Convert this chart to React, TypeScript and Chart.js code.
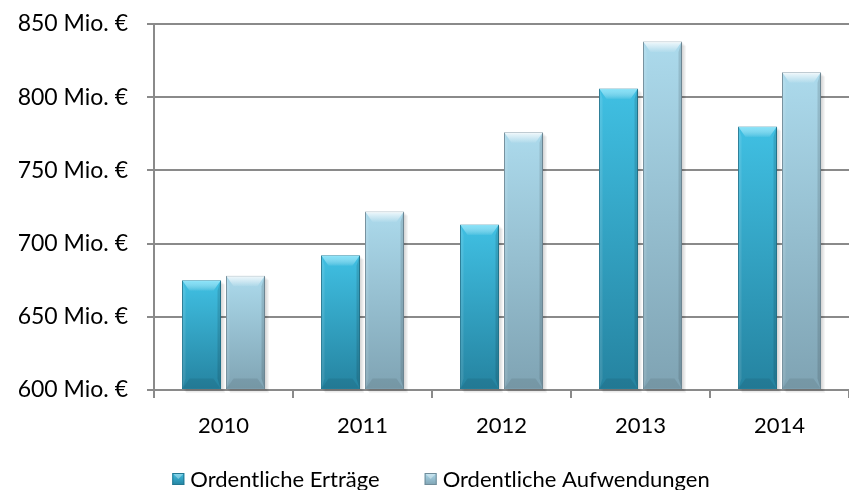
import React, { useEffect, useRef } from "react";
import { Chart, registerables } from "chart.js";

Chart.register(...registerables);

const categories = ["2010", "2011", "2012", "2013", "2014"];
const seriesNames = ["Ordentliche Erträge", "Ordentliche Aufwendungen"];
const ertraege = [675, 692, 713, 806, 780];
const aufwendungen = [678, 722, 776, 838, 817];
const yTicks = [600, 650, 700, 750, 800, 850];

const FONT = "Lato, 'Open Sans', sans-serif";
const FONT_SIZE = 22;

const DARK = { top: "#40c0e3", bottom: "#2583a0", border: "#237892", bevelTop: "rgba(150,235,255,0.8)" };
const LIGHT = { top: "#acdaec", bottom: "#7fa3b3", border: "#718d9a", bevelTop: "rgba(255,255,255,0.8)" };

const makeGrad = (c: any) => (ctx: any) => {
  const chart = ctx.chart;
  if (ctx.type !== "data" || !chart.chartArea || !chart.scales.y) return c.top;
  const y = chart.scales.y;
  const top = y.getPixelForValue(ctx.raw);
  const bot = y.getPixelForValue(y.min);
  if (!isFinite(top) || !isFinite(bot)) return c.top;
  const g = chart.ctx.createLinearGradient(0, top, 0, bot);
  g.addColorStop(0, c.top);
  g.addColorStop(1, c.bottom);
  return g;
};

const palettes = [DARK, LIGHT];

const eachBar = (chart: any, fn: (b: any, di: number) => void) => {
  chart.data.datasets.forEach((_ds: any, di: number) => {
    const meta = chart.getDatasetMeta(di);
    meta.data.forEach((bar: any) => {
      const p = bar.getProps(["x", "y", "base", "width"], true);
      p.base = Math.min(p.base, chart.chartArea.bottom);
      fn(p, di);
    });
  });
};

const bevelPlugin = {
  id: "bevel",
  beforeDatasetsDraw(chart: any) {
    const ctx = chart.ctx;
    ctx.save();
    eachBar(chart, ({ x, y, base, width }) => {
      const l = x - width / 2;
      for (let k = 1; k <= 4; k++) {
        ctx.fillStyle = "rgba(0,0,0,0.045)";
        ctx.fillRect(l + k, y + k, width, base - y);
      }
    });
    ctx.restore();
  },
  afterDatasetsDraw(chart: any) {
    const ctx = chart.ctx;
    eachBar(chart, ({ x, y, base, width }, di) => {
      const pal = palettes[di];
      const l = x - width / 2 + 0.5;
      const r = x + width / 2 - 0.5;
      const t = y + 0.5;
      const b = base - 0.5;
      const bx = 7;
      const by = 10;
      const poly = (pts: number[][], fill: any) => {
        ctx.beginPath();
        ctx.moveTo(pts[0][0], pts[0][1]);
        for (let i = 1; i < pts.length; i++) ctx.lineTo(pts[i][0], pts[i][1]);
        ctx.closePath();
        ctx.fillStyle = fill;
        ctx.fill();
      };
      ctx.save();
      const gt = ctx.createLinearGradient(0, t, 0, t + by);
      gt.addColorStop(0, pal.bevelTop);
      gt.addColorStop(1, "rgba(255,255,255,0.05)");
      poly([[l, t], [r, t], [r - bx, t + by], [l + bx, t + by]], gt);
      poly([[l, b], [r, b], [r - bx, b - by], [l + bx, b - by]], "rgba(0,0,0,0.08)");
      poly([[l, t], [l + 3, t + by], [l + 3, b - by], [l, b]], "rgba(255,255,255,0.10)");
      poly([[r, t], [r - 3, t + by], [r - 3, b - by], [r, b]], "rgba(0,0,0,0.12)");
      ctx.restore();
    });
  },
};

const legendPlugin = {
  id: "customLegend",
  afterDraw(chart: any) {
    const ctx = chart.ctx;
    ctx.save();
    ctx.font = `${FONT_SIZE}px ${FONT}`;
    ctx.textBaseline = "middle";
    ctx.textAlign = "left";
    const box = 12;
    const gapText = 6;
    const gapItem = 45;
    const widths = seriesNames.map((n) => ctx.measureText(n).width);
    const total = widths.reduce((a, w) => a + box + gapText + w, 0) + gapItem * (seriesNames.length - 1);
    let x = 441 - total / 2;
    const cy = 479;
    seriesNames.forEach((name, i) => {
      const pal = palettes[i];
      const g = ctx.createLinearGradient(0, cy - box / 2, 0, cy + box / 2);
      g.addColorStop(0, pal.top);
      g.addColorStop(1, pal.bottom);
      ctx.fillStyle = g;
      ctx.fillRect(x, cy - box / 2, box, box);
      ctx.fillStyle = "rgba(255,255,255,0.35)";
      ctx.beginPath();
      ctx.moveTo(x, cy - box / 2);
      ctx.lineTo(x + box, cy - box / 2);
      ctx.lineTo(x + box / 2, cy);
      ctx.closePath();
      ctx.fill();
      ctx.strokeStyle = pal.border;
      ctx.lineWidth = 1;
      ctx.strokeRect(x + 0.5, cy - box / 2 + 0.5, box - 1, box - 1);
      x += box + gapText;
      ctx.fillStyle = "#000";
      ctx.fillText(name, x, cy + 1);
      x += widths[i] + gapItem;
    });
    ctx.restore();
  },
};

export default function App() {
  const ref = useRef<HTMLCanvasElement>(null);
  useEffect(() => {
    if (!ref.current) return;
    const chart = new Chart(ref.current, {
      type: "bar",
      data: {
        labels: categories,
        datasets: [
          {
            label: seriesNames[0],
            data: ertraege,
            base: yTicks[0],
            backgroundColor: makeGrad(DARK),
            borderColor: DARK.border,
            borderWidth: 1,
            categoryPercentage: 0.633,
            barPercentage: 0.886,
          },
          {
            label: seriesNames[1],
            data: aufwendungen,
            base: yTicks[0],
            backgroundColor: makeGrad(LIGHT),
            borderColor: LIGHT.border,
            borderWidth: 1,
            categoryPercentage: 0.633,
            barPercentage: 0.886,
          },
        ],
      },
      options: {
        animation: false,
        responsive: false,
        maintainAspectRatio: false,
        layout: { padding: { top: 24, right: 0, bottom: 40, left: 0 } },
        plugins: {
          legend: { display: false },
          tooltip: { enabled: false },
        },
        scales: {
          x: {
            grid: {
              display: true,
              drawOnChartArea: false,
              drawTicks: true,
              tickLength: 8,
              color: "#8a8a8a",
              lineWidth: 2,
              offset: true,
            },
            border: { display: true, color: "#8a8a8a", width: 2 },
            ticks: {
              color: "#000",
              font: { family: FONT, size: FONT_SIZE },
              padding: 15,
            },
            afterFit: (s: any) => {
              s.height = 60;
              s.paddingLeft = 0;
              s.paddingRight = 0;
            },
          },
          y: {
            min: yTicks[0],
            max: yTicks[yTicks.length - 1],
            afterBuildTicks: (s: any) => {
              s.ticks = yTicks.map((v) => ({ value: v }));
            },
            grid: {
              color: "#8a8a8a",
              lineWidth: 2,
              tickLength: 7,
            },
            border: { display: true, color: "#8a8a8a", width: 2 },
            ticks: {
              color: "#000",
              font: { family: FONT, size: 23 },
              padding: 19,
              callback: (v: any) => `${v} Mio. €`,
            },
            afterFit: (s: any) => {
              s.width = 154;
              s.paddingTop = 0;
              s.paddingBottom = 0;
            },
          },
        },
      },
      plugins: [bevelPlugin, legendPlugin],
    });
    return () => chart.destroy();
  }, []);
  return (
    <div style={{ position: "fixed", left: 0, top: 0, width: 849, height: 490, background: "#fff" }}>
      <canvas ref={ref} width={849} height={490} style={{ width: 849, height: 490, display: "block" }} />
    </div>
  );
}
